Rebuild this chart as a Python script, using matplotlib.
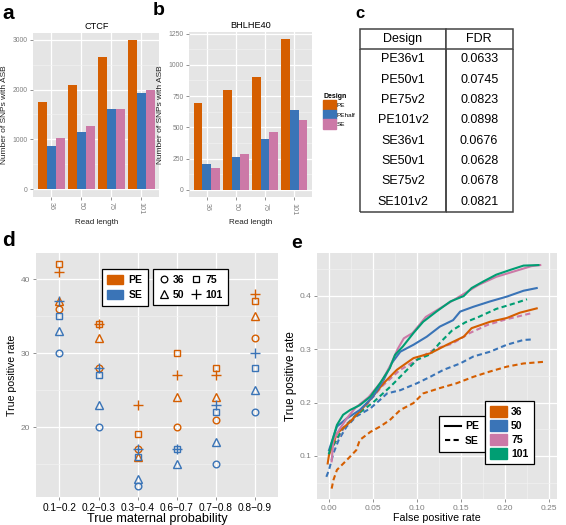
import numpy as np
import matplotlib
matplotlib.use("Agg")
import matplotlib.pyplot as plt
from matplotlib.patches import Patch
from matplotlib.lines import Line2D
from matplotlib.ticker import MultipleLocator, FixedLocator

plt.rcParams['font.family'] = ['Liberation Sans', 'DejaVu Sans']

# ---- data ----
read_lengths = ['36', '50', '75', '101']
designs = ['PE', 'PEhalf', 'SE']
ctcf_pe = [1740, 2090, 2650, 2990]
ctcf_pehalf = [860, 1150, 1600, 1930]
ctcf_se = [1030, 1260, 1610, 2000]
bhl_pe = [695, 800, 905, 1205]
bhl_pehalf = [205, 260, 405, 640]
bhl_se = [175, 285, 460, 560]

fdr_design = ['PE36v1', 'PE50v1', 'PE75v2', 'PE101v2', 'SE36v1', 'SE50v1', 'SE75v2', 'SE101v2']
fdr_value = ['0.0633', '0.0745', '0.0823', '0.0898', '0.0676', '0.0628', '0.0678', '0.0821']

prob_bins = ['0.1\u22120.2', '0.2\u22120.3', '0.3\u22120.4', '0.6\u22120.7', '0.7\u22120.8', '0.8\u22120.9']
pe_36 = [36, 28, 17, 20, 21, 32]
pe_50 = [37, 32, 16, 24, 24, 35]
pe_75 = [42, 34, 19, 30, 28, 37]
pe_101 = [41, 34, 23, 27, 27, 38]
se_36 = [30, 20, 12, np.nan, 15, 22]
se_50 = [33, 23, 13, 15, 18, 25]
se_75 = [35, 27, 16, 17, 22, 28]
se_101 = [37, 28, 17, 17, 23, 30]

# ROC curves (false positive rate, true positive rate)
roc_pe36_x = [-0.0015, 0, 0.009, 0.024, 0.043, 0.062, 0.077, 0.096, 0.115, 0.134, 0.153, 0.162, 0.183, 0.202, 0.217, 0.236]
roc_pe36_y = [0.086, 0.102, 0.142, 0.164, 0.198, 0.236, 0.261, 0.283, 0.292, 0.308, 0.323, 0.339, 0.351, 0.358, 0.368, 0.376]
roc_pe50_x = [0, 0.009, 0.020, 0.035, 0.050, 0.062, 0.071, 0.081, 0.096, 0.111, 0.126, 0.141, 0.149, 0.164, 0.183, 0.202, 0.221, 0.236]
roc_pe50_y = [0.111, 0.155, 0.170, 0.186, 0.211, 0.242, 0.273, 0.295, 0.308, 0.323, 0.342, 0.354, 0.370, 0.379, 0.389, 0.398, 0.409, 0.414]
roc_pe75_x = [0.003, 0.005, 0.012, 0.020, 0.030, 0.045, 0.060, 0.070, 0.078, 0.085, 0.095, 0.110, 0.130, 0.150, 0.170, 0.190, 0.210, 0.230, 0.240]
roc_pe75_y = [0.090, 0.130, 0.150, 0.170, 0.190, 0.210, 0.240, 0.270, 0.300, 0.320, 0.330, 0.360, 0.380, 0.400, 0.420, 0.435, 0.445, 0.455, 0.457]
roc_pe101_x = [0, 0.004, 0.009, 0.016, 0.024, 0.035, 0.047, 0.058, 0.069, 0.075, 0.084, 0.096, 0.107, 0.122, 0.138, 0.153, 0.162, 0.175, 0.190, 0.206, 0.221, 0.238]
roc_pe101_y = [0.105, 0.130, 0.158, 0.177, 0.186, 0.195, 0.211, 0.236, 0.264, 0.289, 0.305, 0.330, 0.351, 0.370, 0.389, 0.399, 0.414, 0.426, 0.439, 0.448, 0.456, 0.457]
roc_se36_x = [0.003, 0.005, 0.009, 0.020, 0.031, 0.035, 0.047, 0.058, 0.069, 0.081, 0.096, 0.107, 0.126, 0.145, 0.164, 0.183, 0.202, 0.221, 0.2435]
roc_se36_y = [0.039, 0.055, 0.074, 0.092, 0.111, 0.130, 0.145, 0.155, 0.167, 0.186, 0.199, 0.217, 0.227, 0.236, 0.248, 0.258, 0.267, 0.273, 0.276]
roc_se50_x = [-0.003, 0, 0.005, 0.011, 0.020, 0.031, 0.047, 0.058, 0.066, 0.081, 0.100, 0.115, 0.130, 0.149, 0.164, 0.183, 0.202, 0.221, 0.232]
roc_se50_y = [0.061, 0.074, 0.105, 0.130, 0.155, 0.174, 0.189, 0.205, 0.217, 0.223, 0.236, 0.248, 0.261, 0.273, 0.286, 0.295, 0.308, 0.317, 0.318]
roc_se75_x = [0.005, 0.020, 0.040, 0.060, 0.080, 0.100, 0.120, 0.140, 0.160, 0.180, 0.200, 0.230]
roc_se75_y = [0.120, 0.160, 0.190, 0.230, 0.260, 0.280, 0.300, 0.310, 0.330, 0.345, 0.355, 0.367]
roc_se101_x = [0.005, 0.015, 0.030, 0.050, 0.070, 0.085, 0.100, 0.115, 0.125, 0.140, 0.155, 0.170, 0.190, 0.210, 0.225]
roc_se101_y = [0.120, 0.150, 0.175, 0.200, 0.230, 0.255, 0.280, 0.290, 0.310, 0.335, 0.350, 0.360, 0.375, 0.385, 0.393]

ORANGE = '#D55E00'
BLUE = '#3A74B7'
PINK = '#CC79A7'
GREEN = '#009E73'
GREY_TXT = '#7F7F7F'

W, H = 566, 525
fig = plt.figure(figsize=(W / 100, H / 100), dpi=100)


def rect(x0, y0, x1, y1):
    return [x0 / W, 1 - y1 / H, (x1 - x0) / W, (y1 - y0) / H]


def gg(ax, tick_size):
    ax.set_facecolor('#E5E5E5')
    for s in ax.spines.values():
        s.set_visible(False)
    ax.set_axisbelow(True)
    ax.grid(True, which='major', color='white', lw=0.9)
    ax.grid(True, which='minor', color='#F2F2F2', lw=0.45)
    ax.tick_params(which='major', color=GREY_TXT, length=2.5, width=0.6,
                   labelsize=tick_size, labelcolor=GREY_TXT, pad=1.5)
    ax.tick_params(which='minor', length=0)


# ---- panels a and b ----
def bar_panel(ax, pe, pehalf, se, title, ymax, step):
    gg(ax, 4.9)
    x = np.arange(1, len(read_lengths) + 1)
    for off, vals, col in [(-0.3, pe, ORANGE), (0, pehalf, BLUE), (0.3, se, PINK)]:
        ax.bar(x + off, vals, width=0.3, color=col, linewidth=0)
    ax.set_xlim(0.4, 4.6)
    ax.set_ylim(-0.05 * ymax, 1.05 * ymax)
    ax.yaxis.set_major_locator(MultipleLocator(step))
    ax.yaxis.set_minor_locator(MultipleLocator(step / 2))
    ax.set_xticks(x)
    ax.set_xticklabels(read_lengths, rotation=-90, fontsize=5.2)
    ax.set_title(title, fontsize=6.6, pad=2.5)
    ax.set_xlabel('Read length', fontsize=5.8, labelpad=3, color='#222222')
    ax.set_ylabel('Number of SNPs with ASB', fontsize=6, labelpad=3, color='#222222')


ax_a = fig.add_axes(rect(33.3, 32.7, 159.3, 196.7))
bar_panel(ax_a, ctcf_pe, ctcf_pehalf, ctcf_se, 'CTCF', 2990, 1000)
ax_b = fig.add_axes(rect(189.3, 31.7, 311.7, 197.3))
bar_panel(ax_b, bhl_pe, bhl_pehalf, bhl_se, 'BHLHE40', 1205, 250)

leg_a = fig.legend(handles=[Patch(color=c) for c in [ORANGE, BLUE, PINK]], labels=designs,
                   title='Design', loc='upper left', bbox_to_anchor=(319 / W, 1 - 89 / H),
                   frameon=False, fontsize=4.6, title_fontsize=5, handlelength=1.9,
                   handleheight=1.9, labelspacing=0.0, handletextpad=0.2, borderpad=0.2,
                   alignment='left')
leg_a.get_title().set_fontweight('bold')

# ---- panel c: table ----
ax_c = fig.add_axes(rect(360.3, 28.7, 512.7, 211.7))
ax_c.axis('off')
tbl = ax_c.table(cellText=[[d, v] for d, v in zip(fdr_design, fdr_value)],
                 colLabels=['Design', 'FDR'], cellLoc='center',
                 colWidths=[0.56, 0.44], bbox=[0, 0, 1, 1])
tbl.auto_set_font_size(False)
tbl.set_fontsize(9)
nrows = len(fdr_design)
for (r, c), cell in tbl.get_celld().items():
    cell.set_edgecolor('#444444')
    cell.set_linewidth(1.1)
    if r == 0:
        cell.visible_edges = 'BTLR'
    elif r == nrows:
        cell.visible_edges = 'BLR'
    else:
        cell.visible_edges = 'LR'

# ---- panel d ----
ax_d = fig.add_axes(rect(36, 253.3, 278.3, 497.3))
gg(ax_d, 6)
xd = np.arange(1, len(prob_bins) + 1)
shape_series = [('o', 4.8), ('^', 5.6), ('s', 5.0), ('+', 7.0)]
for vals, (m, ms) in zip([pe_36, pe_50, pe_75, pe_101], shape_series):
    ax_d.plot(xd, vals, ls='none', marker=m, ms=ms, mfc='none', mec=ORANGE, mew=1.0)
for vals, (m, ms) in zip([se_36, se_50, se_75, se_101], shape_series):
    ax_d.plot(xd, vals, ls='none', marker=m, ms=ms, mfc='none', mec=BLUE, mew=1.0)
ax_d.set_xlim(0.4, 6.6)
ax_d.set_ylim(10.5, 43.5)
ax_d.yaxis.set_major_locator(FixedLocator([20, 30, 40]))
ax_d.yaxis.set_minor_locator(FixedLocator([15, 25, 35]))
ax_d.set_xticks(xd)
ax_d.set_xticklabels(prob_bins)
ax_d.tick_params(axis='x', labelsize=7.3, labelcolor='black')
ax_d.set_xlabel('True maternal probability', fontsize=9.2, labelpad=0)
ax_d.set_ylabel('True positive rate', fontsize=7.6, labelpad=3)

leg_d1 = fig.legend(handles=[Patch(color=ORANGE), Patch(color=BLUE)], labels=['PE', 'SE'],
                    loc='upper left', bbox_to_anchor=(101.7 / W, 1 - 269.3 / H),
                    prop={'weight': 'bold', 'size': 7.5}, fancybox=False, edgecolor='black',
                    framealpha=1, handlelength=1.5, handleheight=1.0, labelspacing=0.45,
                    handletextpad=0.5, borderpad=0.55, borderaxespad=0)
leg_d1.get_frame().set_linewidth(0.9)
shape_handles = [Line2D([], [], ls='none', marker=m, ms=ms, mfc='none', mec='black', mew=0.9)
                 for m, ms in shape_series]
leg_d2 = fig.legend(handles=shape_handles, labels=read_lengths, ncol=2,
                    loc='upper left', bbox_to_anchor=(152.7 / W, 1 - 269.3 / H),
                    prop={'weight': 'bold', 'size': 7.5}, fancybox=False, edgecolor='black',
                    framealpha=1, handlelength=1.0, labelspacing=0.45, handletextpad=0.4,
                    columnspacing=0.6, borderpad=0.55, borderaxespad=0)
leg_d2.get_frame().set_linewidth(0.9)

# ---- panel e ----
ax_e = fig.add_axes(rect(317.3, 253.3, 556.7, 499.3))
gg(ax_e, 6)
curves_se = [(roc_se36_x, roc_se36_y, ORANGE), (roc_se50_x, roc_se50_y, BLUE),
             (roc_se75_x, roc_se75_y, PINK), (roc_se101_x, roc_se101_y, GREEN)]
curves_pe = [(roc_pe36_x, roc_pe36_y, ORANGE), (roc_pe50_x, roc_pe50_y, BLUE),
             (roc_pe75_x, roc_pe75_y, PINK), (roc_pe101_x, roc_pe101_y, GREEN)]
for xs, ys, col in curves_se:
    ax_e.plot(xs, ys, color=col, lw=1.5, dashes=(2.5, 1.6))
for xs, ys, col in curves_pe:
    ax_e.plot(xs, ys, color=col, lw=1.5)
ax_e.set_xlim(-0.0133, 0.2587)
ax_e.set_ylim(0.019, 0.479)
ax_e.xaxis.set_major_locator(MultipleLocator(0.05))
ax_e.xaxis.set_minor_locator(FixedLocator([0.025, 0.075, 0.125, 0.175, 0.225]))
ax_e.yaxis.set_major_locator(FixedLocator([0.1, 0.2, 0.3, 0.4]))
ax_e.yaxis.set_minor_locator(FixedLocator([0.05, 0.15, 0.25, 0.35, 0.45]))
ax_e.set_xticks([0, 0.05, 0.1, 0.15, 0.2, 0.25])
ax_e.set_xticklabels(['0.00', '0.05', '0.10', '0.15', '0.20', '0.25'])
ax_e.tick_params(labelsize=6)
ax_e.set_xlabel('False positive rate', fontsize=7.7, labelpad=1)
ax_e.set_ylabel('True positive rate', fontsize=8.4, labelpad=2)

leg_e1 = fig.legend(handles=[Line2D([], [], color='black', lw=1.5),
                             Line2D([], [], color='black', lw=1.5, dashes=(2.5, 1.6))],
                    labels=['PE', 'SE'], loc='upper left',
                    bbox_to_anchor=(439.3 / W, 1 - 415.7 / H),
                    prop={'weight': 'bold', 'size': 7.5}, fancybox=False, edgecolor='black',
                    framealpha=1, handlelength=1.5, labelspacing=0.45, handletextpad=0.4,
                    borderpad=0.55, borderaxespad=0)
leg_e1.get_frame().set_linewidth(0.9)
leg_e2 = fig.legend(handles=[Patch(color=c) for c in [ORANGE, BLUE, PINK, GREEN]],
                    labels=read_lengths, loc='upper left',
                    bbox_to_anchor=(485 / W, 1 - 401 / H),
                    prop={'weight': 'bold', 'size': 7.5}, fancybox=False, edgecolor='black',
                    framealpha=1, handlelength=1.6, handleheight=1.2, labelspacing=0.3,
                    handletextpad=0.4, borderpad=0.5, borderaxespad=0)
leg_e2.get_frame().set_linewidth(0.9)

# ---- panel letters ----
for lab, x, y, size in [('a', 2, 19, 15), ('b', 153, 15, 14), ('c', 355, 18, 12),
                        ('d', 2, 246, 15), ('e', 291, 248, 14)]:
    fig.text(x / W, 1 - y / H, lab, fontsize=size, fontweight='heavy', va='baseline')

fig.savefig('out.png', dpi=100, facecolor='white')
